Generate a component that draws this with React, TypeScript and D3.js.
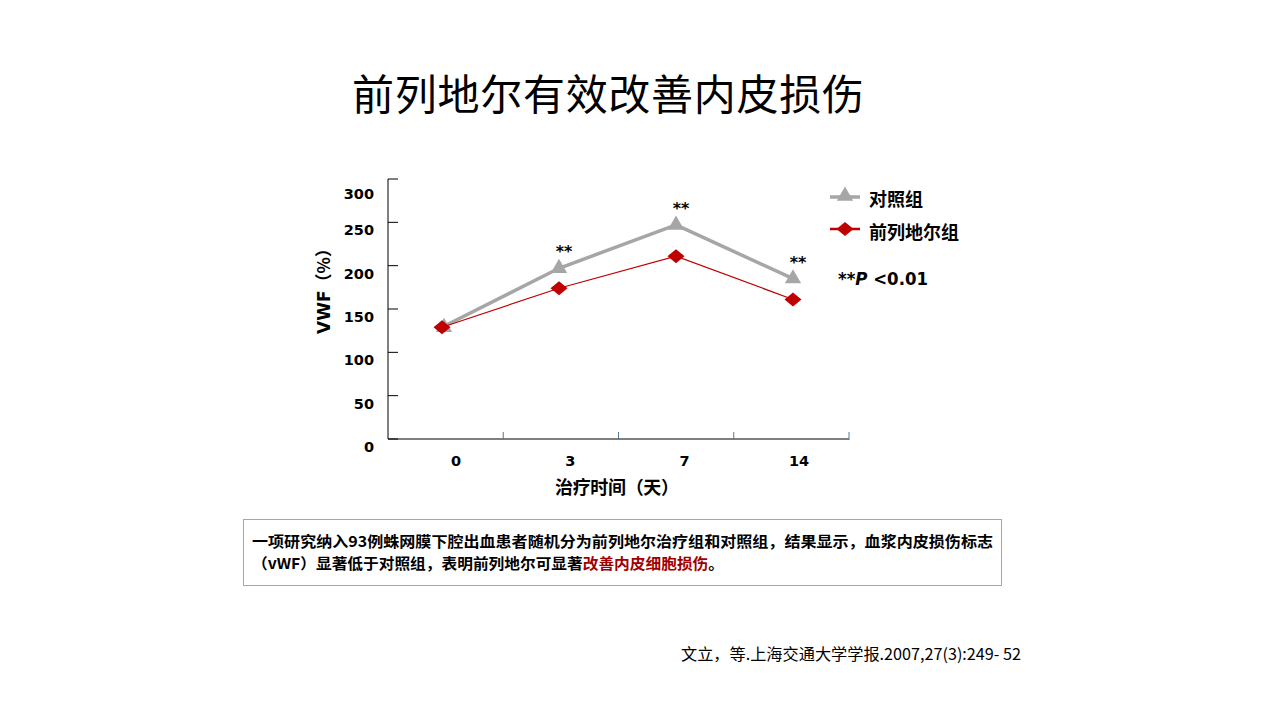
import React from "react";
import * as d3 from "d3";

const days = ["0", "3", "7", "14"];
const controlValues = [129, 197, 247, 185];
const drugValues = [129, 174, 211, 161];
const significant = [false, true, true, true];
const yTicks = [0, 50, 100, 150, 200, 250, 300];

const title = "前列地尔有效改善内皮损伤";
const seriesNames = ["对照组", "前列地尔组"];
const xTitle = "治疗时间（天）";
const yTitleMain = "VWF";
const yTitleUnit = "（%）";
const note1 = "一项研究纳入93例蛛网膜下腔出血患者随机分为前列地尔治疗组和对照组，结果显示，血浆内皮损伤标志";
const note2a = "（vWF）显著低于对照组，表明前列地尔可显著";
const note2b = "改善内皮细胞损伤";
const note2c = "。";
const citation = "文立，等.上海交通大学学报.2007,27(3):249- 52";

const CJK = "'Noto Sans CJK SC', 'Noto Sans', sans-serif";
const NUM = "'DejaVu Sans', Verdana, sans-serif";
const GRAY = "#a6a6a6";
const RED = "#c00000";

export default function App() {
  const left = 388, right = 849, top = 179, bottom = 439;
  const x = d3.scaleBand<string>().domain(days).range([left, right]);
  const xPt = d3.scalePoint<string>().domain(days).range([442, 793]);
  const xLab = d3.scalePoint<string>().domain(days).range([456, 799]);
  const y = d3.scaleLinear().domain([0, 300]).range([bottom, top]);
  const cx = (d: string) => xPt(d) as number;

  const lineGen = d3
    .line<number>()
    .x((_, i) => cx(days[i]))
    .y((v) => y(v));

  const tri = d3.symbol().type(d3.symbolTriangle).size(115)();
  const diamond = "M0,-7L8.5,0L0,7L-8.5,0Z";

  return (
    <svg
      width={1280}
      height={720}
      style={{ position: "absolute", left: 0, top: 0, background: "#fff" }}
    >
      <text x={608} y={110} textAnchor="middle" fontFamily={CJK} fontSize={42} fill="#000" textLength={512}>
        {title}
      </text>

      {/* axes */}
      <line x1={left} x2={left} y1={top} y2={bottom} stroke="#000" strokeWidth={1} />
      <line x1={left} x2={right} y1={bottom} y2={bottom} stroke="#000" strokeWidth={1} />
      {yTicks.map((t) => (
        <g key={t}>
          <line x1={left} x2={left + 10} y1={y(t)} y2={y(t)} stroke="#000" />
          <text
            x={374}
            y={y(t) + (t === 300 ? 20 : 13)}
            textAnchor="end"
            fontFamily={NUM}
            fontWeight="bold"
            fontSize={14.5}
          >
            {t}
          </text>
        </g>
      ))}
      {days.map((d) => (
        <g key={d}>
          <line
            x1={(x(d) as number) + x.bandwidth()}
            x2={(x(d) as number) + x.bandwidth()}
            y1={bottom - 7}
            y2={bottom + 1}
            stroke="#5a7896"
          />
          <text
            x={xLab(d) as number}
            y={466}
            textAnchor="middle"
            fontFamily={NUM}
            fontWeight="bold"
            fontSize={14.5}
          >
            {d}
          </text>
        </g>
      ))}
      <text x={617} y={494} textAnchor="middle" fontFamily={CJK} fontWeight="bold" fontSize={18} textLength={124}>
        {xTitle}
      </text>
      <text
        transform={`translate(330,287) rotate(-90)`}
        textAnchor="middle"
        fontWeight="bold"
        fontSize={17}
      >
        <tspan fontFamily={NUM}>{yTitleMain}</tspan>
        <tspan fontFamily={CJK}>{yTitleUnit}</tspan>
      </text>

      {/* series */}
      <path d={lineGen(controlValues) || ""} fill="none" stroke={GRAY} strokeWidth={3.5} />
      {controlValues.map((v, i) => (
        <path key={i} d={tri || ""} transform={`translate(${cx(days[i]) + (i === 0 ? 2 : 0)},${y(v)})`} fill={GRAY} />
      ))}
      <path d={lineGen(drugValues) || ""} fill="none" stroke={RED} strokeWidth={1.2} />
      {drugValues.map((v, i) => (
        <path key={i} d={diamond} transform={`translate(${cx(days[i])},${y(v)})`} fill={RED} />
      ))}
      {controlValues.map((v, i) =>
        significant[i] ? (
          <text
            key={i}
            x={cx(days[i]) + 5}
            y={y(v) - 11}
            textAnchor="middle"
            fontFamily={NUM}
            fontWeight="bold"
            fontSize={16}
          >
            **
          </text>
        ) : null
      )}

      {/* legend */}
      <line x1={830} x2={860} y1={197} y2={197} stroke={GRAY} strokeWidth={3.5} />
      <path d={tri || ""} transform="translate(845,196)" fill={GRAY} />
      <text x={869} y={206} fontFamily={CJK} fontWeight="bold" fontSize={18}>
        {seriesNames[0]}
      </text>
      <line x1={830} x2={860} y1={229} y2={229} stroke={RED} strokeWidth={2.5} />
      <path d={diamond} transform="translate(845,229)" fill={RED} />
      <text x={869} y={239} fontFamily={CJK} fontWeight="bold" fontSize={18}>
        {seriesNames[1]}
      </text>
      <text x={838} y={285} fontFamily={NUM} fontWeight="bold" fontSize={17} textLength={90} lengthAdjust="spacingAndGlyphs">
        **<tspan fontStyle="italic">P</tspan> {"<0.01"}
      </text>

      {/* note box */}
      <rect x={243.5} y={519.5} width={758} height={66} fill="#fff" stroke={GRAY} strokeWidth={1} />
      <text x={252} y={547} fontFamily={CJK} fontWeight="bold" fontSize={15} textLength={741} lengthAdjust="spacingAndGlyphs">
        {note1}
      </text>
      <text x={252} y={569} fontFamily={CJK} fontWeight="bold" fontSize={15} textLength={472} lengthAdjust="spacingAndGlyphs">
        {note2a}
        <tspan fill="#a00000">{note2b}</tspan>
        {note2c}
      </text>

      <text x={681} y={660} fontFamily={CJK} fontSize={16} textLength={340} lengthAdjust="spacingAndGlyphs">
        {citation}
      </text>
    </svg>
  );
}
